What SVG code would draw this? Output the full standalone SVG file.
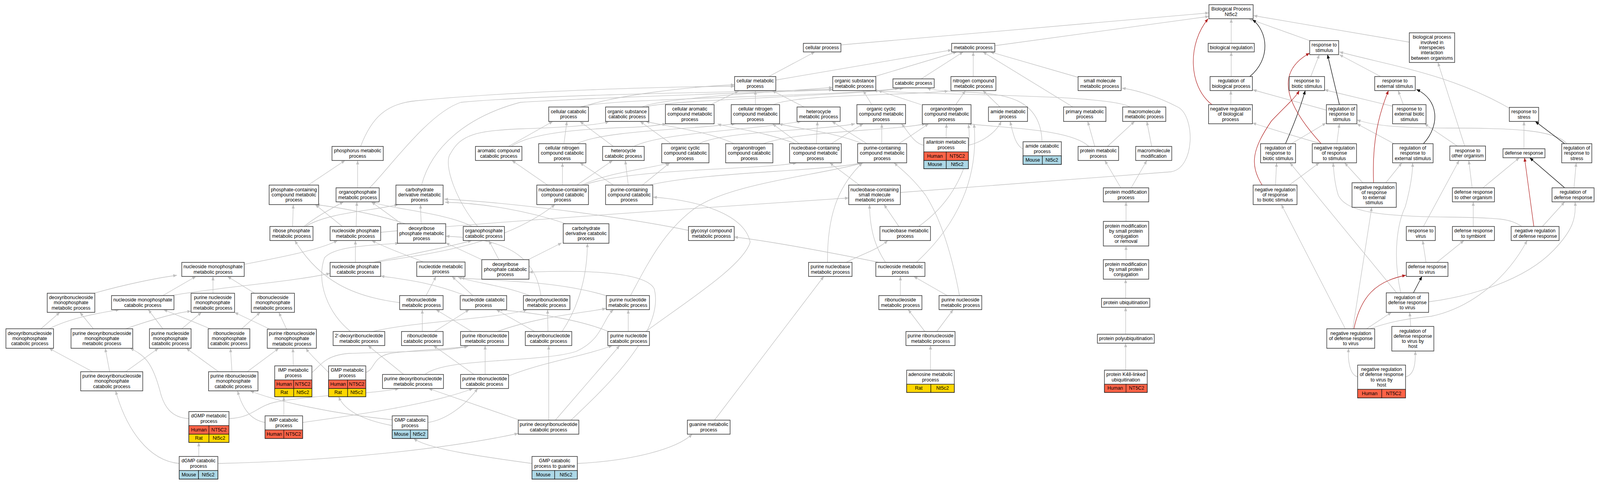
<svg xmlns="http://www.w3.org/2000/svg" width="4304" height="1237" viewBox="0 0 4304 1237">
<style>
.n rect{fill:#fff;stroke:#3c3c3c;stroke-width:1.6}
.n rect.hu{fill:#ff6347;stroke:#1a1a1a;stroke-width:1.4}
.n rect.ra{fill:#ffd700;stroke:#1a1a1a;stroke-width:1.4}
.n rect.mo{fill:#add8e6;stroke:#1a1a1a;stroke-width:1.4}
.n text{font-family:"Liberation Sans",Arial,Helvetica,sans-serif;font-size:13px;text-anchor:middle;fill:#000}
.e{fill:none;stroke:#c0c0c0;stroke-width:1.3;marker-end:url(#ag)}
.k{fill:none;stroke:#000;stroke-width:1.3;marker-end:url(#ak)}
.r{fill:none;stroke:#b22222;stroke-width:1.3;marker-end:url(#ar)}
</style>
<defs>
<marker id="ag" viewBox="0 0 10 8" refX="10" refY="4" markerWidth="10" markerHeight="8" markerUnits="userSpaceOnUse" orient="auto"><path d="M0,0L10,4L0,8z" fill="#c0c0c0"/></marker>
<marker id="ak" viewBox="0 0 10 8" refX="10" refY="4" markerWidth="10" markerHeight="8" markerUnits="userSpaceOnUse" orient="auto"><path d="M0,0L10,4L0,8z" fill="#000"/></marker>
<marker id="ar" viewBox="0 0 10 8" refX="10" refY="4" markerWidth="10" markerHeight="8" markerUnits="userSpaceOnUse" orient="auto"><path d="M0,0L10,4L0,8z" fill="#b22222"/></marker>
</defs>
<rect width="4304" height="1237" fill="#fff"/>
<g id="diagram" transform="scale(0.951673 1)">
<g id="edges">
<path class="e" d="M2262,115L3252,33"/>
<path class="e" d="M2676,117L3252,42"/>
<path class="e" d="M2068,196L2192,133"/>
<path class="e" d="M2087,205L2560,128"/>
<path class="e" d="M2353,196L2574,133"/>
<path class="e" d="M2478,202L2591,133"/>
<path class="e" d="M2618,196L2618,133"/>
<path class="e" d="M2886,274L2644,133"/>
<path class="e" d="M2900,198L2664,133"/>
<path class="e" d="M1567,274C1650,245 1850,222 1976,217"/>
<path class="e" d="M1560,274C1640,250 2250,248 2418,226"/>
<path class="e" d="M1727,274C1780,250 2100,235 2240,224"/>
<path class="e" d="M1735,274C1800,255 2300,245 2430,226"/>
<path class="e" d="M1912,268L1987,233"/>
<path class="e" d="M2032,268L2032,232"/>
<path class="e" d="M2080,268C2150,240 2450,245 2551,233"/>
<path class="e" d="M2163,274L2077,232"/>
<path class="e" d="M2345,268L2322,232"/>
<path class="e" d="M2478,268L2362,232"/>
<path class="e" d="M2571,268L2597,232"/>
<path class="e" d="M2690,274L2644,232"/>
<path class="e" d="M3040,274C2980,240 2500,245 2350,232"/>
<path class="e" d="M970,375C1000,300 1040,265 1120,258C1400,232 1800,222 1976,221"/>
<path class="e" d="M1368,375L1487,311"/>
<path class="e" d="M1375,375C1430,340 1560,330 1700,326C1750,324 1775,320 1792,317"/>
<path class="e" d="M1517,368L1525,311"/>
<path class="e" d="M1552,368C1620,335 1850,332 1978,317"/>
<path class="e" d="M1650,375L1560,311"/>
<path class="e" d="M1705,375C1780,340 2000,335 2155,311"/>
<path class="e" d="M1805,368L1722,311"/>
<path class="e" d="M1880,368C1950,335 2200,335 2300,317"/>
<path class="e" d="M2053,368C2150,335 2400,335 2490,317"/>
<path class="e" d="M1975,368C1900,335 1800,325 1737,311"/>
<path class="e" d="M2150,368L2078,317"/>
<path class="e" d="M2196,368L2199,311"/>
<path class="e" d="M2140,368C2050,335 1960,328 1930,317"/>
<path class="e" d="M2236,368L2322,317"/>
<path class="e" d="M2332,368L2238,311"/>
<path class="e" d="M2372,368L2372,317"/>
<path class="e" d="M2418,368L2498,317"/>
<path class="e" d="M2320,368C2250,340 2150,330 2095,317"/>
<path class="e" d="M2545,353L2546,317"/>
<path class="e" d="M2485,372C2460,368 2445,340 2425,317"/>
<path class="e" d="M2605,372C2640,365 2680,340 2693,311"/>
<path class="e" d="M2752,382C2730,370 2725,340 2717,311"/>
<path class="e" d="M2803,363C2800,250 2700,240 2600,236C2550,234 2510,232 2494,225"/>
<path class="e" d="M2945,375L2926,311"/>
<path class="e" d="M2979,375L3052,311"/>
<path class="e" d="M2929,375C2880,330 2700,328 2604,317"/>
<path class="e" d="M3098,375L3085,311"/>
<path class="e" d="M3015,481L2972,411"/>
<path class="e" d="M3043,481L3085,411"/>
<path class="e" d="M3029,567L3029,517"/>
<path class="e" d="M3029,665L3029,630"/>
<path class="e" d="M3028,764L3028,715"/>
<path class="e" d="M3028,856L3028,787"/>
<path class="e" d="M3028,948L3028,879"/>
<path class="e" d="M829,474L928,411"/>
<path class="e" d="M962,481L962,411"/>
<path class="e" d="M994,481C1040,440 1150,290 1240,262C1500,240 2000,236 2240,229"/>
<path class="e" d="M1134,474C1160,380 1250,300 1400,262C1700,245 2100,236 2240,230"/>
<path class="e" d="M1473,474L1377,411"/>
<path class="e" d="M1513,474L1513,417"/>
<path class="e" d="M1552,474L1648,411"/>
<path class="e" d="M1565,474C1640,440 1760,430 1800,417"/>
<path class="e" d="M1570,474C1700,430 2050,435 2143,417"/>
<path class="e" d="M1650,474L1560,417"/>
<path class="e" d="M1690,474L1682,411"/>
<path class="e" d="M1728,474L1802,417"/>
<path class="e" d="M1747,474C1900,440 2200,440 2320,417"/>
<path class="e" d="M2312,474L2232,417"/>
<path class="e" d="M2422,493L3150,440C3215,430 3215,300 3170,275C3100,240 3040,228 3018,226"/>
<path class="e" d="M787,580L789,524"/>
<path class="e" d="M818,580C850,555 890,535 924,517"/>
<path class="e" d="M822,580C880,545 1000,540 1071,524"/>
<path class="e" d="M921,580L848,524"/>
<path class="e" d="M958,580L960,517"/>
<path class="e" d="M1024,595C1300,570 2000,525 2283,507"/>
<path class="e" d="M1091,573C1000,545 900,530 850,524"/>
<path class="e" d="M1133,573L1131,524"/>
<path class="e" d="M1080,573L999,517"/>
<path class="e" d="M1270,580C1200,545 1050,535 1000,517"/>
<path class="e" d="M1285,580C1230,520 1190,420 1212,393C1240,345 1280,335 1400,330C1550,325 1620,318 1638,311"/>
<path class="e" d="M1523,573C1420,540 1300,520 1197,518"/>
<path class="e" d="M1852,590C1700,560 1400,520 1195,510"/>
<path class="e" d="M2418,580L2378,524"/>
<path class="e" d="M2471,580C2560,520 2620,420 2605,318"/>
<path class="e" d="M657,677C750,660 860,640 908,616"/>
<path class="e" d="M956,672L956,616"/>
<path class="e" d="M1003,672C1080,655 1200,635 1269,616"/>
<path class="e" d="M1008,672C1150,650 1350,630 1493,524"/>
<path class="e" d="M1139,671C1100,655 1050,640 1000,616"/>
<path class="e" d="M1296,665L1199,622"/>
<path class="e" d="M1342,665L1315,616"/>
<path class="e" d="M1421,665L1511,622"/>
<path class="e" d="M2276,672C2320,650 2360,640 2388,616"/>
<path class="e" d="M2226,672C2225,560 2250,480 2320,417"/>
<path class="e" d="M2382,672C2360,640 2340,600 2339,524"/>
<path class="e" d="M2365,672C2200,640 2050,615 1975,607"/>
<path class="e" d="M2465,672C2500,640 2640,520 2620,317"/>
<path class="e" d="M253,751C330,730 420,712 476,705"/>
<path class="e" d="M438,757L527,708"/>
<path class="e" d="M462,757C550,740 800,720 888,700"/>
<path class="e" d="M573,751L573,708"/>
<path class="e" d="M685,751L612,708"/>
<path class="e" d="M1146,757L1173,708"/>
<path class="e" d="M1075,775C950,760 860,720 793,616"/>
<path class="e" d="M1272,757L1216,708"/>
<path class="e" d="M1252,757C1150,720 1080,715 1024,707"/>
<path class="e" d="M1425,757C1350,730 1280,725 1232,710"/>
<path class="e" d="M1455,757C1440,650 1350,610 1199,605"/>
<path class="e" d="M1630,757C1500,720 1350,720 1239,712"/>
<path class="e" d="M1696,757C1740,680 1780,600 1860,540C1950,470 2200,450 2322,417"/>
<path class="e" d="M2422,757L2422,708"/>
<path class="e" d="M2548,757L2458,708"/>
<path class="e" d="M2581,757C2560,650 2530,560 2490,500C2450,450 2420,430 2405,417"/>
<path class="e" d="M110,842L161,800"/>
<path class="e" d="M132,842C200,810 280,800 321,793"/>
<path class="e" d="M251,842L215,800"/>
<path class="e" d="M338,842C420,815 480,800 514,797"/>
<path class="e" d="M438,842L399,793"/>
<path class="e" d="M489,842L542,800"/>
<path class="e" d="M566,842L440,793"/>
<path class="e" d="M650,842L700,800"/>
<path class="e" d="M726,843L631,800"/>
<path class="e" d="M771,843L750,800"/>
<path class="e" d="M1003,849C1100,825 1350,815 1418,793"/>
<path class="e" d="M943,849C880,800 850,720 873,660C900,630 1000,628 1073,623"/>
<path class="e" d="M1136,849L1136,793"/>
<path class="e" d="M1169,849L1262,793"/>
<path class="e" d="M1269,849L1173,793"/>
<path class="e" d="M1338,849C1450,810 1580,800 1630,790"/>
<path class="e" d="M1438,849L1335,793"/>
<path class="e" d="M1474,849L1473,793"/>
<path class="e" d="M1512,849C1560,780 1580,700 1580,623"/>
<path class="e" d="M1690,849L1690,793"/>
<path class="e" d="M1637,849C1550,815 1420,800 1342,793"/>
<path class="e" d="M1737,849C1850,770 2000,680 2018,620C2000,540 1850,510 1757,505"/>
<path class="e" d="M2488,849L2443,793"/>
<path class="e" d="M2520,849L2564,793"/>
<path class="e" d="M249,952L132,892"/>
<path class="e" d="M295,952L283,892"/>
<path class="e" d="M338,952L426,892"/>
<path class="e" d="M588,952L501,892"/>
<path class="e" d="M624,952L620,892"/>
<path class="e" d="M665,952L750,892"/>
<path class="e" d="M789,937L788,892"/>
<path class="e" d="M884,954C860,930 835,910 823,892"/>
<path class="e" d="M839,954C860,940 870,910 940,905C1100,900 1200,900 1259,887"/>
<path class="e" d="M984,954C1010,945 1000,915 1050,905C1120,895 1200,895 1259,887"/>
<path class="e" d="M1086,959L990,885"/>
<path class="e" d="M1143,959C1200,915 1450,930 1550,900C1620,870 1620,820 1650,793"/>
<path class="e" d="M1275,959L1166,885"/>
<path class="e" d="M1305,959L1305,885"/>
<path class="e" d="M1368,963C1450,930 1580,910 1647,885"/>
<path class="e" d="M2503,948L2503,885"/>
<path class="e" d="M508,1072C460,1070 440,1040 430,1000C410,930 390,910 350,892"/>
<path class="e" d="M616,1072C680,1070 690,1040 740,1030C850,1010 1000,1010 1073,995"/>
<path class="e" d="M763.5,1065L763.5,1016"/>
<path class="e" d="M713,1082C670,1075 650,1040 639,1001"/>
<path class="e" d="M814,1082C900,1070 1150,1040 1272,995"/>
<path class="e" d="M1055,1090C1000,1080 930,1060 911,1016"/>
<path class="e" d="M1055,1075C900,1060 750,1030 673,1001"/>
<path class="e" d="M1151,1082C1200,1075 1250,1040 1285,995"/>
<path class="e" d="M1398,1076L1153,995"/>
<path class="e" d="M1476,1076L1476,885"/>
<path class="e" d="M1494,1076L1667,885"/>
<path class="e" d="M1536,1076C1620,1000 1790,850 1760,740C1740,700 1600,690 1423,697"/>
<path class="e" d="M1922,1076L2216,708"/>
<path class="e" d="M534.7,1169L534.7,1133"/>
<path class="e" d="M482,1187C400,1180 340,1100 311,1001"/>
<path class="e" d="M586,1187C900,1180 1200,1150 1394,1110"/>
<path class="e" d="M1431,1187C1300,1170 1150,1150 1113,1123"/>
<path class="e" d="M1553,1187C1700,1180 1820,1150 1862,1112"/>
<path class="e" d="M3312,111L3312,48"/>
<path class="e" d="M3523,104L3359,48"/>
<path class="e" d="M3791,108L3372,40"/>
<path class="e" d="M3312,196L3312,133"/>
<path class="e" d="M3311,268L3311,232"/>
<path class="e" d="M3526,196L3549,140"/>
<path class="e" d="M3714,196L3603,140"/>
<path class="e" d="M3568,282L3370,230"/>
<path class="e" d="M3775,268L3761,232"/>
<path class="e" d="M3746,272L3563,230"/>
<path class="e" d="M4060,277C3900,190 3750,170 3603,133"/>
<path class="e" d="M3553,368C3450,340 3420,330 3369,315"/>
<path class="e" d="M3596,368L3603,317"/>
<path class="e" d="M3474,368L3567,315"/>
<path class="e" d="M3750,368L3650,317"/>
<path class="e" d="M4215,368C4180,330 4050,328 3897,328C3750,328 3690,320 3650,307"/>
<path class="e" d="M3920,374L3832,317"/>
<path class="e" d="M3940,374L3868,160"/>
<path class="e" d="M4099.5,381L4099.5,311"/>
<path class="e" d="M3431,474L3434,417"/>
<path class="e" d="M3468,474L3549,417"/>
<path class="e" d="M3666,468L3617,417"/>
<path class="e" d="M3728,468L3771,417"/>
<path class="e" d="M3960,481L3951,411"/>
<path class="e" d="M3989,481L4087,404"/>
<path class="e" d="M4234,481L4240,417"/>
<path class="e" d="M4149,580L4209,517"/>
<path class="e" d="M4094,580C4060,560 4040,558 3900,556C3700,555 3620,540 3600,500C3590,470 3588,440 3586,417"/>
<path class="e" d="M3829,580L3925,411"/>
<path class="e" d="M3963,580L3963,517"/>
<path class="e" d="M3836,672L3827,616"/>
<path class="e" d="M3865,672L3938,616"/>
<path class="e" d="M3843,773C3950,760 4100,720 4180,640C4230,590 4240,560 4237,517"/>
<path class="e" d="M3757,750L3470,417"/>
<path class="e" d="M3768,750C3745,650 3760,570 3780,530C3795,480 3800,440 3800,417"/>
<path class="e" d="M3676,842L3743,800"/>
<path class="e" d="M3685,842C3750,820 3800,815 3850,810C3950,790 4050,720 4108,616"/>
<path class="e" d="M3619,842L3447,524"/>
<path class="e" d="M3639,842L3690,531"/>
<path class="e" d="M3795,836L3792,800"/>
<path class="e" d="M3652,965C3630,960 3625,920 3628,892"/>
<path class="e" d="M3781,965C3805,960 3808,930 3807,899"/>
<path class="k" d="M3362,196C3420,150 3410,80 3369,50"/>
<path class="k" d="M3603,268L3571,140"/>
<path class="k" d="M3458,368C3480,320 3500,270 3511,232"/>
<path class="k" d="M3829,368C3875,320 3870,255 3810,229"/>
<path class="k" d="M4209,368L4130,311"/>
<path class="k" d="M4209,481L4115,404"/>
<path class="k" d="M3802,750L3825,708"/>
<path class="r" d="M3260,268C3195,220 3195,110 3250,48"/>
<path class="r" d="M3554,368C3470,280 3420,190 3523,136"/>
<path class="r" d="M3395,474C3360,420 3370,380 3420,310C3460,270 3485,250 3495,232"/>
<path class="r" d="M3695,468C3690,360 3710,290 3735,232"/>
<path class="r" d="M4126,580L4101,404"/>
<path class="r" d="M3642,842C3660,760 3700,720 3782,705"/>
</g>
<g id="nodes">
<g id="bp" class="n"><rect x="3252" y="12" width="119" height="36"/><text x="3311.5" y="27.35">Biological Process<tspan x="3311.5" dy="13.3">Nt5c2</tspan></text></g>
<g id="cp" class="n"><rect x="2161" y="111" width="101" height="22"/><text x="2211.5" y="126">cellular process</text></g>
<g id="mp" class="n"><rect x="2560" y="111" width="116" height="22"/><text x="2618" y="126">metabolic process</text></g>
<g id="breg" class="n"><rect x="3250" y="111" width="124" height="22"/><text x="3312" y="126">biological regulation</text></g>
<g id="rstim" class="n"><rect x="3523" y="104" width="78" height="36"/><text x="3562" y="119.35">response to<tspan x="3562" dy="13.3">stimulus</tspan></text></g>
<g id="bpint" class="n"><rect x="3791" y="84" width="122" height="76"/><text x="3852" y="99.4">biological process<tspan x="3852" dy="13.3">involved in</tspan><tspan x="3852" dy="13.3">interspecies</tspan><tspan x="3852" dy="13.3">interaction</tspan><tspan x="3852" dy="13.3">between organisms</tspan></text></g>
<g id="cmp" class="n"><rect x="1976" y="196" width="111" height="36"/><text x="2031.5" y="211.35">cellular metabolic<tspan x="2031.5" dy="13.3">process</tspan></text></g>
<g id="osmp" class="n"><rect x="2240" y="196" width="116" height="36"/><text x="2298" y="211.35">organic substance<tspan x="2298" dy="13.3">metabolic process</tspan></text></g>
<g id="catp" class="n"><rect x="2402" y="202" width="111" height="23"/><text x="2457.5" y="217.5">catabolic process</text></g>
<g id="ncmp" class="n"><rect x="2558" y="196" width="121" height="36"/><text x="2618.5" y="211.35">nitrogen compound<tspan x="2618.5" dy="13.3">metabolic process</tspan></text></g>
<g id="smmp" class="n"><rect x="2900" y="196" width="116" height="36"/><text x="2958" y="211.35">small molecule<tspan x="2958" dy="13.3">metabolic process</tspan></text></g>
<g id="rbp" class="n"><rect x="3255" y="196" width="114" height="36"/><text x="3312" y="211.35">regulation of<tspan x="3312" dy="13.3">biological process</tspan></text></g>
<g id="rbs" class="n"><rect x="3468" y="196" width="95" height="36"/><text x="3515.5" y="211.35">response to<tspan x="3515.5" dy="13.3">biotic stimulus</tspan></text></g>
<g id="res" class="n"><rect x="3698" y="196" width="109" height="36"/><text x="3752.5" y="211.35">response to<tspan x="3752.5" dy="13.3">external stimulus</tspan></text></g>
<g id="ccp" class="n"><rect x="1476" y="274" width="107" height="37"/><text x="1529.5" y="289.85">cellular catabolic<tspan x="1529.5" dy="13.3">process</tspan></text></g>
<g id="oscp" class="n"><rect x="1629" y="274" width="116" height="37"/><text x="1687" y="289.85">organic substance<tspan x="1687" dy="13.3">catabolic process</tspan></text></g>
<g id="camp" class="n"><rect x="1790" y="268" width="131" height="49"/><text x="1855.5" y="283.2">cellular aromatic<tspan x="1855.5" dy="13.3">compound metabolic</tspan><tspan x="1855.5" dy="13.3">process</tspan></text></g>
<g id="cncmp" class="n"><rect x="1967" y="268" width="130" height="49"/><text x="2032" y="283.2">cellular nitrogen<tspan x="2032" dy="13.3">compound metabolic</tspan><tspan x="2032" dy="13.3">process</tspan></text></g>
<g id="hmp" class="n"><rect x="2144" y="274" width="116" height="37"/><text x="2202" y="289.85">heterocycle<tspan x="2202" dy="13.3">metabolic process</tspan></text></g>
<g id="occmp" class="n"><rect x="2305" y="268" width="131" height="49"/><text x="2370.5" y="283.2">organic cyclic<tspan x="2370.5" dy="13.3">compound metabolic</tspan><tspan x="2370.5" dy="13.3">process</tspan></text></g>
<g id="oncmp" class="n"><rect x="2481" y="268" width="131" height="49"/><text x="2546.5" y="283.2">organonitrogen<tspan x="2546.5" dy="13.3">compound metabolic</tspan><tspan x="2546.5" dy="13.3">process</tspan></text></g>
<g id="amp" class="n"><rect x="2659" y="274" width="105" height="37"/><text x="2711.5" y="289.85">amide metabolic<tspan x="2711.5" dy="13.3">process</tspan></text></g>
<g id="pmp" class="n"><rect x="2861" y="274" width="114" height="37"/><text x="2918" y="289.85">primary metabolic<tspan x="2918" dy="13.3">process</tspan></text></g>
<g id="mmp" class="n"><rect x="3020" y="274" width="116" height="37"/><text x="3078" y="289.85">macromolecule<tspan x="3078" dy="13.3">metabolic process</tspan></text></g>
<g id="nrbp" class="n"><rect x="3251" y="268" width="118" height="49"/><text x="3310" y="283.2">negative regulation<tspan x="3310" dy="13.3">of biological</tspan><tspan x="3310" dy="13.3">process</tspan></text></g>
<g id="rrs" class="n"><rect x="3568" y="268" width="82" height="49"/><text x="3609" y="283.2">regulation of<tspan x="3609" dy="13.3">response to</tspan><tspan x="3609" dy="13.3">stimulus</tspan></text></g>
<g id="rebs" class="n"><rect x="3746" y="268" width="90" height="49"/><text x="3791" y="283.2">response to<tspan x="3791" dy="13.3">external biotic</tspan><tspan x="3791" dy="13.3">stimulus</tspan></text></g>
<g id="rstress" class="n"><rect x="4060" y="275" width="79" height="36"/><text x="4099.5" y="290.35">response to<tspan x="4099.5" dy="13.3">stress</tspan></text></g>
<g id="phmp" class="n"><rect x="893" y="375" width="138" height="36"/><text x="962" y="390.35">phosphorus metabolic<tspan x="962" dy="13.3">process</tspan></text></g>
<g id="accp" class="n"><rect x="1279" y="375" width="125" height="36"/><text x="1341.5" y="390.35">aromatic compound<tspan x="1341.5" dy="13.3">catabolic process</tspan></text></g>
<g id="cnccp" class="n"><rect x="1449" y="368" width="127" height="49"/><text x="1512.5" y="383.2">cellular nitrogen<tspan x="1512.5" dy="13.3">compound catabolic</tspan><tspan x="1512.5" dy="13.3">process</tspan></text></g>
<g id="hcp" class="n"><rect x="1621" y="375" width="112" height="36"/><text x="1677" y="390.35">heterocycle<tspan x="1677" dy="13.3">catabolic process</tspan></text></g>
<g id="occcp" class="n"><rect x="1780" y="368" width="127" height="49"/><text x="1843.5" y="383.2">organic cyclic<tspan x="1843.5" dy="13.3">compound catabolic</tspan><tspan x="1843.5" dy="13.3">process</tspan></text></g>
<g id="onccp" class="n"><rect x="1952" y="368" width="127" height="49"/><text x="2015.5" y="383.2">organonitrogen<tspan x="2015.5" dy="13.3">compound catabolic</tspan><tspan x="2015.5" dy="13.3">process</tspan></text></g>
<g id="nbccmp" class="n"><rect x="2124" y="368" width="139" height="49"/><text x="2193.5" y="383.2">nucleobase-containing<tspan x="2193.5" dy="13.3">compound metabolic</tspan><tspan x="2193.5" dy="13.3">process</tspan></text></g>
<g id="pccmp" class="n"><rect x="2307" y="368" width="132" height="49"/><text x="2373" y="383.2">purine-containing<tspan x="2373" dy="13.3">compound metabolic</tspan><tspan x="2373" dy="13.3">process</tspan></text></g>
<g id="allan" class="n"><rect x="2485" y="353" width="120" height="79"/><text x="2545" y="368.35">allantoin metabolic<tspan x="2545" dy="13.3">process</tspan></text><rect class="hu" x="2485" y="389" width="60.5" height="22"/><rect class="hu" x="2545.5" y="389" width="59.5" height="22"/><rect class="mo" x="2485" y="411" width="60.5" height="21"/><rect class="mo" x="2545.5" y="411" width="59.5" height="21"/><text x="2515" y="404">Human</text><text x="2575" y="404">NT5C2</text><text x="2515" y="425.5">Mouse</text><text x="2575" y="425.5">Nt5c2</text></g>
<g id="amcp" class="n"><rect x="2752" y="363" width="103" height="58"/><text x="2803.5" y="378.35">amide catabolic<tspan x="2803.5" dy="13.3">process</tspan></text><rect class="mo" x="2752" y="399" width="52" height="22"/><rect class="mo" x="2804" y="399" width="51" height="22"/><text x="2778" y="414">Mouse</text><text x="2829.5" y="414">Nt5c2</text></g>
<g id="prmp" class="n"><rect x="2900" y="375" width="109" height="36"/><text x="2954.5" y="390.35">protein metabolic<tspan x="2954.5" dy="13.3">process</tspan></text></g>
<g id="mmod" class="n"><rect x="3055" y="375" width="97" height="36"/><text x="3103.5" y="390.35">macromolecule<tspan x="3103.5" dy="13.3">modification</tspan></text></g>
<g id="rrbs" class="n"><rect x="3391" y="368" width="94" height="49"/><text x="3438" y="383.2">regulation of<tspan x="3438" dy="13.3">response to</tspan><tspan x="3438" dy="13.3">biotic stimulus</tspan></text></g>
<g id="nrrs" class="n"><rect x="3530" y="368" width="119" height="49"/><text x="3589.5" y="383.2">negative regulation<tspan x="3589.5" dy="13.3">of response</tspan><tspan x="3589.5" dy="13.3">to stimulus</tspan></text></g>
<g id="rres" class="n"><rect x="3746" y="368" width="109" height="49"/><text x="3800.5" y="383.2">regulation of<tspan x="3800.5" dy="13.3">response to</tspan><tspan x="3800.5" dy="13.3">external stimulus</tspan></text></g>
<g id="roo" class="n"><rect x="3900" y="374" width="96" height="37"/><text x="3948" y="389.85">response to<tspan x="3948" dy="13.3">other organism</tspan></text></g>
<g id="defr" class="n"><rect x="4043" y="381" width="113" height="23"/><text x="4099.5" y="396.5">defense response</text></g>
<g id="rrstress" class="n"><rect x="4201" y="368" width="81" height="49"/><text x="4241.5" y="383.2">regulation of<tspan x="4241.5" dy="13.3">response to</tspan><tspan x="4241.5" dy="13.3">stress</tspan></text></g>
<g id="pccmpm" class="n"><rect x="724" y="474" width="133" height="50"/><text x="790.5" y="489.7">phosphate-containing<tspan x="790.5" dy="13.3">compound metabolic</tspan><tspan x="790.5" dy="13.3">process</tspan></text></g>
<g id="opmp" class="n"><rect x="904" y="481" width="116" height="36"/><text x="962" y="496.35">organophosphate<tspan x="962" dy="13.3">metabolic process</tspan></text></g>
<g id="cdmp" class="n"><rect x="1065" y="474" width="127" height="50"/><text x="1128.5" y="489.7">carbohydrate<tspan x="1128.5" dy="13.3">derivative metabolic</tspan><tspan x="1128.5" dy="13.3">process</tspan></text></g>
<g id="nbcccp" class="n"><rect x="1444" y="474" width="139" height="50"/><text x="1513.5" y="489.7">nucleobase-containing<tspan x="1513.5" dy="13.3">compound catabolic</tspan><tspan x="1513.5" dy="13.3">process</tspan></text></g>
<g id="pcccp" class="n"><rect x="1629" y="474" width="127" height="50"/><text x="1692.5" y="489.7">purine-containing<tspan x="1692.5" dy="13.3">compound catabolic</tspan><tspan x="1692.5" dy="13.3">process</tspan></text></g>
<g id="nbsmmp" class="n"><rect x="2283" y="474" width="139" height="50"/><text x="2352.5" y="489.7">nucleobase-containing<tspan x="2352.5" dy="13.3">small molecule</tspan><tspan x="2352.5" dy="13.3">metabolic process</tspan></text></g>
<g id="pmodp" class="n"><rect x="2968" y="481" width="122" height="36"/><text x="3029" y="496.35">protein modification<tspan x="3029" dy="13.3">process</tspan></text></g>
<g id="nrrbs" class="n"><rect x="3371" y="474" width="118" height="50"/><text x="3430" y="489.7">negative regulation<tspan x="3430" dy="13.3">of response</tspan><tspan x="3430" dy="13.3">to biotic stimulus</tspan></text></g>
<g id="nrres" class="n"><rect x="3637" y="468" width="119" height="63"/><text x="3696.5" y="483.55">negative regulation<tspan x="3696.5" dy="13.3">of response</tspan><tspan x="3696.5" dy="13.3">to external</tspan><tspan x="3696.5" dy="13.3">stimulus</tspan></text></g>
<g id="droo" class="n"><rect x="3907" y="481" width="113" height="36"/><text x="3963.5" y="496.35">defense response<tspan x="3963.5" dy="13.3">to other organism</tspan></text></g>
<g id="rdr" class="n"><rect x="4175" y="481" width="113" height="36"/><text x="4231.5" y="496.35">regulation of<tspan x="4231.5" dy="13.3">defense response</tspan></text></g>
<g id="rpmp" class="n"><rect x="726" y="580" width="116" height="36"/><text x="784" y="595.35">ribose phosphate<tspan x="784" dy="13.3">metabolic process</tspan></text></g>
<g id="npmp" class="n"><rect x="888" y="580" width="136" height="36"/><text x="956" y="595.35">nucleoside phosphate<tspan x="956" dy="13.3">metabolic process</tspan></text></g>
<g id="drpmp" class="n"><rect x="1069" y="573" width="130" height="50"/><text x="1134" y="588.7">deoxyribose<tspan x="1134" dy="13.3">phosphate metabolic</tspan><tspan x="1134" dy="13.3">process</tspan></text></g>
<g id="opcp" class="n"><rect x="1246" y="580" width="111" height="36"/><text x="1301.5" y="595.35">organophosphate<tspan x="1301.5" dy="13.3">catabolic process</tspan></text></g>
<g id="cdcp" class="n"><rect x="1515" y="573" width="123" height="50"/><text x="1576.5" y="588.7">carbohydrate<tspan x="1576.5" dy="13.3">derivative catabolic</tspan><tspan x="1576.5" dy="13.3">process</tspan></text></g>
<g id="gcmp" class="n"><rect x="1852" y="580" width="123" height="36"/><text x="1913.5" y="595.35">glycosyl compound<tspan x="1913.5" dy="13.3">metabolic process</tspan></text></g>
<g id="nbmp" class="n"><rect x="2367" y="580" width="136" height="36"/><text x="2435" y="595.35">nucleobase metabolic<tspan x="2435" dy="13.3">process</tspan></text></g>
<g id="pmsp" class="n"><rect x="2968" y="567" width="122" height="63"/><text x="3029" y="582.55">protein modification<tspan x="3029" dy="13.3">by small protein</tspan><tspan x="3029" dy="13.3">conjugation</tspan><tspan x="3029" dy="13.3">or removal</tspan></text></g>
<g id="rvir" class="n"><rect x="3783" y="580" width="78" height="36"/><text x="3822" y="595.35">response to<tspan x="3822" dy="13.3">virus</tspan></text></g>
<g id="drsym" class="n"><rect x="3907" y="580" width="113" height="36"/><text x="3963.5" y="595.35">defense response<tspan x="3963.5" dy="13.3">to symbiont</tspan></text></g>
<g id="nrdr" class="n"><rect x="4065" y="580" width="129" height="36"/><text x="4129.5" y="595.35">negative regulation<tspan x="4129.5" dy="13.3">of defense response</tspan></text></g>
<g id="nmpmp" class="n"><rect x="489" y="672" width="168" height="36"/><text x="573" y="687.35">nucleoside monophosphate<tspan x="573" dy="13.3">metabolic process</tspan></text></g>
<g id="npcp" class="n"><rect x="888" y="672" width="136" height="36"/><text x="956" y="687.35">nucleoside phosphate<tspan x="956" dy="13.3">catabolic process</tspan></text></g>
<g id="ntmp" class="n"><rect x="1121" y="671" width="130" height="37"/><text x="1186" y="686.85">nucleotide metabolic<tspan x="1186" dy="13.3">process</tspan></text></g>
<g id="drpcp" class="n"><rect x="1296" y="665" width="127" height="50"/><text x="1359.5" y="680.7">deoxyribose<tspan x="1359.5" dy="13.3">phosphate catabolic</tspan><tspan x="1359.5" dy="13.3">process</tspan></text></g>
<g id="pnbmp" class="n"><rect x="2175" y="672" width="117" height="36"/><text x="2233.5" y="687.35">purine nucleobase<tspan x="2233.5" dy="13.3">metabolic process</tspan></text></g>
<g id="nsmp" class="n"><rect x="2356" y="672" width="132" height="36"/><text x="2422" y="687.35">nucleoside metabolic<tspan x="2422" dy="13.3">process</tspan></text></g>
<g id="pmspc" class="n"><rect x="2968" y="665" width="122" height="50"/><text x="3029" y="680.7">protein modification<tspan x="3029" dy="13.3">by small protein</tspan><tspan x="3029" dy="13.3">conjugation</tspan></text></g>
<g id="drvir" class="n"><rect x="3783" y="672" width="112" height="36"/><text x="3839" y="687.35">defense response<tspan x="3839" dy="13.3">to virus</tspan></text></g>
<g id="drnmpm" class="n"><rect x="127" y="751" width="128" height="49"/><text x="191" y="766.2">deoxyribonucleoside<tspan x="191" dy="13.3">monophosphate</tspan><tspan x="191" dy="13.3">metabolic process</tspan></text></g>
<g id="nmpcp" class="n"><rect x="300" y="757" width="168" height="36"/><text x="384" y="772.35">nucleoside monophosphate<tspan x="384" dy="13.3">catabolic process</tspan></text></g>
<g id="pnmpm" class="n"><rect x="514" y="751" width="117" height="49"/><text x="572.5" y="766.2">purine nucleoside<tspan x="572.5" dy="13.3">monophosphate</tspan><tspan x="572.5" dy="13.3">metabolic process</tspan></text></g>
<g id="rnmpm" class="n"><rect x="676" y="751" width="116" height="49"/><text x="734" y="766.2">ribonucleoside<tspan x="734" dy="13.3">monophosphate</tspan><tspan x="734" dy="13.3">metabolic process</tspan></text></g>
<g id="rntmp" class="n"><rect x="1075" y="757" width="117" height="36"/><text x="1133.5" y="772.35">ribonucleotide<tspan x="1133.5" dy="13.3">metabolic process</tspan></text></g>
<g id="ntcp" class="n"><rect x="1238" y="757" width="125" height="36"/><text x="1300.5" y="772.35">nucleotide catabolic<tspan x="1300.5" dy="13.3">process</tspan></text></g>
<g id="drntmp" class="n"><rect x="1408" y="757" width="125" height="36"/><text x="1470.5" y="772.35">deoxyribonucleotide<tspan x="1470.5" dy="13.3">metabolic process</tspan></text></g>
<g id="pntmp" class="n"><rect x="1631" y="757" width="116" height="36"/><text x="1689" y="772.35">purine nucleotide<tspan x="1689" dy="13.3">metabolic process</tspan></text></g>
<g id="rnsmp" class="n"><rect x="2364" y="757" width="116" height="36"/><text x="2422" y="772.35">ribonucleoside<tspan x="2422" dy="13.3">metabolic process</tspan></text></g>
<g id="pnsmp" class="n"><rect x="2526" y="757" width="115" height="36"/><text x="2583.5" y="772.35">purine nucleoside<tspan x="2583.5" dy="13.3">metabolic process</tspan></text></g>
<g id="pubq" class="n"><rect x="2963" y="764" width="130" height="23"/><text x="3028" y="779.5">protein ubiquitination</text></g>
<g id="rdrv" class="n"><rect x="3729" y="750" width="114" height="50"/><text x="3786" y="765.7">regulation of<tspan x="3786" dy="13.3">defense response</tspan><tspan x="3786" dy="13.3">to virus</tspan></text></g>
<g id="drnmpc" class="n"><rect x="16" y="842" width="128" height="50"/><text x="80" y="857.7">deoxyribonucleoside<tspan x="80" dy="13.3">monophosphate</tspan><tspan x="80" dy="13.3">catabolic process</tspan></text></g>
<g id="pdrnmpm" class="n"><rect x="191" y="842" width="166" height="50"/><text x="274" y="857.7">purine deoxyribonucleoside<tspan x="274" dy="13.3">monophosphate</tspan><tspan x="274" dy="13.3">metabolic process</tspan></text></g>
<g id="pnmpc" class="n"><rect x="402" y="842" width="112" height="50"/><text x="458" y="857.7">purine nucleoside<tspan x="458" dy="13.3">monophosphate</tspan><tspan x="458" dy="13.3">catabolic process</tspan></text></g>
<g id="rnmpc" class="n"><rect x="560" y="842" width="112" height="50"/><text x="616" y="857.7">ribonucleoside<tspan x="616" dy="13.3">monophosphate</tspan><tspan x="616" dy="13.3">catabolic process</tspan></text></g>
<g id="prnmpm" class="n"><rect x="719" y="843" width="132" height="49"/><text x="785" y="858.2">purine ribonucleoside<tspan x="785" dy="13.3">monophosphate</tspan><tspan x="785" dy="13.3">metabolic process</tspan></text></g>
<g id="dntmp2" class="n"><rect x="896" y="849" width="139" height="36"/><text x="965.5" y="864.35">2'-deoxyribonucleotide<tspan x="965.5" dy="13.3">metabolic process</tspan></text></g>
<g id="rntcp" class="n"><rect x="1080" y="849" width="112" height="36"/><text x="1136" y="864.35">ribonucleotide<tspan x="1136" dy="13.3">catabolic process</tspan></text></g>
<g id="prntmp" class="n"><rect x="1239" y="849" width="129" height="36"/><text x="1303.5" y="864.35">purine ribonucleotide<tspan x="1303.5" dy="13.3">metabolic process</tspan></text></g>
<g id="drntcp" class="n"><rect x="1413" y="849" width="125" height="36"/><text x="1475.5" y="864.35">deoxyribonucleotide<tspan x="1475.5" dy="13.3">catabolic process</tspan></text></g>
<g id="pntcp" class="n"><rect x="1635" y="849" width="112" height="36"/><text x="1691" y="864.35">purine nucleotide<tspan x="1691" dy="13.3">catabolic process</tspan></text></g>
<g id="prnsmp" class="n"><rect x="2437" y="849" width="132" height="36"/><text x="2503" y="864.35">purine ribonucleoside<tspan x="2503" dy="13.3">metabolic process</tspan></text></g>
<g id="ppubq" class="n"><rect x="2952" y="856" width="153" height="23"/><text x="3028.5" y="871.5">protein polyubiquitination</text></g>
<g id="nrdrv" class="n"><rect x="3569" y="842" width="129" height="50"/><text x="3633.5" y="857.7">negative regulation<tspan x="3633.5" dy="13.3">of defense response</tspan><tspan x="3633.5" dy="13.3">to virus</tspan></text></g>
<g id="rdrvh" class="n"><rect x="3744" y="836" width="113" height="63"/><text x="3800.5" y="851.55">regulation of<tspan x="3800.5" dy="13.3">defense response</tspan><tspan x="3800.5" dy="13.3">to virus by</tspan><tspan x="3800.5" dy="13.3">host</tspan></text></g>
<g id="pdrnmpc" class="n"><rect x="217" y="952" width="167" height="49"/><text x="300.5" y="967.2">purine deoxyribonucleoside<tspan x="300.5" dy="13.3">monophosphate</tspan><tspan x="300.5" dy="13.3">catabolic process</tspan></text></g>
<g id="prnmpc" class="n"><rect x="561" y="952" width="133" height="49"/><text x="627.5" y="967.2">purine ribonucleoside<tspan x="627.5" dy="13.3">monophosphate</tspan><tspan x="627.5" dy="13.3">catabolic process</tspan></text></g>
<g id="imp" class="n"><rect x="739" y="937" width="100" height="79"/><text x="789" y="952.35">IMP metabolic<tspan x="789" dy="13.3">process</tspan></text><rect class="hu" x="739" y="973" width="51" height="22"/><rect class="hu" x="790" y="973" width="49" height="22"/><rect class="ra" x="739" y="995" width="51" height="21"/><rect class="ra" x="790" y="995" width="49" height="21"/><text x="764.5" y="988">Human</text><text x="814.5" y="988">NT5C2</text><text x="764.5" y="1009.5">Rat</text><text x="814.5" y="1009.5">Nt5c2</text></g>
<g id="gmp" class="n"><rect x="884" y="937" width="100" height="79"/><text x="934" y="952.35">GMP metabolic<tspan x="934" dy="13.3">process</tspan></text><rect class="hu" x="884" y="973" width="51" height="22"/><rect class="hu" x="935" y="973" width="49" height="22"/><rect class="ra" x="884" y="995" width="51" height="21"/><rect class="ra" x="935" y="995" width="49" height="21"/><text x="909.5" y="988">Human</text><text x="959.5" y="988">NT5C2</text><text x="909.5" y="1009.5">Rat</text><text x="959.5" y="1009.5">Nt5c2</text></g>
<g id="pdrntmp" class="n"><rect x="1029" y="959" width="164" height="36"/><text x="1111" y="974.35">purine deoxyribonucleotide<tspan x="1111" dy="13.3">metabolic process</tspan></text></g>
<g id="prntcp" class="n"><rect x="1239" y="959" width="129" height="36"/><text x="1303.5" y="974.35">purine ribonucleotide<tspan x="1303.5" dy="13.3">catabolic process</tspan></text></g>
<g id="ados" class="n"><rect x="2439" y="948" width="128" height="57"/><text x="2503" y="963.35">adenosine metabolic<tspan x="2503" dy="13.3">process</tspan></text><rect class="ra" x="2439" y="984" width="65" height="21"/><rect class="ra" x="2504" y="984" width="63" height="21"/><text x="2471.5" y="998.5">Rat</text><text x="2535.5" y="998.5">Nt5c2</text></g>
<g id="pk48" class="n"><rect x="2971" y="948" width="115" height="57"/><text x="3028.5" y="963.35">protein K48-linked<tspan x="3028.5" dy="13.3">ubiquitination</tspan></text><rect class="hu" x="2971" y="984" width="58" height="21"/><rect class="hu" x="3029" y="984" width="57" height="21"/><text x="3000" y="998.5">Human</text><text x="3057.5" y="998.5">NT5C2</text></g>
<g id="nrdrvh" class="n"><rect x="3652" y="935" width="129" height="84"/><text x="3716.5" y="950.05">negative regulation<tspan x="3716.5" dy="13.3">of defense response</tspan><tspan x="3716.5" dy="13.3">to virus by</tspan><tspan x="3716.5" dy="13.3">host</tspan></text><rect class="hu" x="3652" y="997" width="65" height="22"/><rect class="hu" x="3717" y="997" width="64" height="22"/><text x="3684.5" y="1012">Human</text><text x="3749" y="1012">NT5C2</text></g>
<g id="dgmp" class="n"><rect x="508" y="1054" width="108" height="79"/><text x="562" y="1069.35">dGMP metabolic<tspan x="562" dy="13.3">process</tspan></text><rect class="hu" x="508" y="1090" width="54" height="22"/><rect class="hu" x="562" y="1090" width="54" height="22"/><rect class="ra" x="508" y="1112" width="54" height="21"/><rect class="ra" x="562" y="1112" width="54" height="21"/><text x="535" y="1105">Human</text><text x="589" y="1105">NT5C2</text><text x="535" y="1126.5">Rat</text><text x="589" y="1126.5">Nt5c2</text></g>
<g id="impc" class="n"><rect x="713" y="1065" width="101" height="58"/><text x="763.5" y="1080.35">IMP catabolic<tspan x="763.5" dy="13.3">process</tspan></text><rect class="hu" x="713" y="1101" width="50.5" height="22"/><rect class="hu" x="763.5" y="1101" width="50.5" height="22"/><text x="738" y="1116">Human</text><text x="789" y="1116">NT5C2</text></g>
<g id="gmpc" class="n"><rect x="1055" y="1065" width="96" height="58"/><text x="1103" y="1080.35">GMP catabolic<tspan x="1103" dy="13.3">process</tspan></text><rect class="mo" x="1055" y="1101" width="49" height="22"/><rect class="mo" x="1104" y="1101" width="47" height="22"/><text x="1079.5" y="1116">Mouse</text><text x="1127.5" y="1116">Nt5c2</text></g>
<g id="pdrntcp" class="n"><rect x="1394" y="1076" width="163" height="36"/><text x="1475.5" y="1091.35">purine deoxyribonucleotide<tspan x="1475.5" dy="13.3">catabolic process</tspan></text></g>
<g id="guan" class="n"><rect x="1849" y="1076" width="115" height="36"/><text x="1906.5" y="1091.35">guanine metabolic<tspan x="1906.5" dy="13.3">process</tspan></text></g>
<g id="dgmpc" class="n"><rect x="482" y="1169" width="104" height="58"/><text x="534" y="1184.35">dGMP catabolic<tspan x="534" dy="13.3">process</tspan></text><rect class="mo" x="482" y="1205" width="52" height="22"/><rect class="mo" x="534" y="1205" width="52" height="22"/><text x="508" y="1220">Mouse</text><text x="560" y="1220">Nt5c2</text></g>
<g id="gmpg" class="n"><rect x="1431" y="1169" width="122" height="58"/><text x="1492" y="1184.35">GMP catabolic<tspan x="1492" dy="13.3">process to guanine</tspan></text><rect class="mo" x="1431" y="1205" width="61" height="22"/><rect class="mo" x="1492" y="1205" width="61" height="22"/><text x="1461.5" y="1220">Mouse</text><text x="1522.5" y="1220">Nt5c2</text></g>
</g>
</g>
</svg>
